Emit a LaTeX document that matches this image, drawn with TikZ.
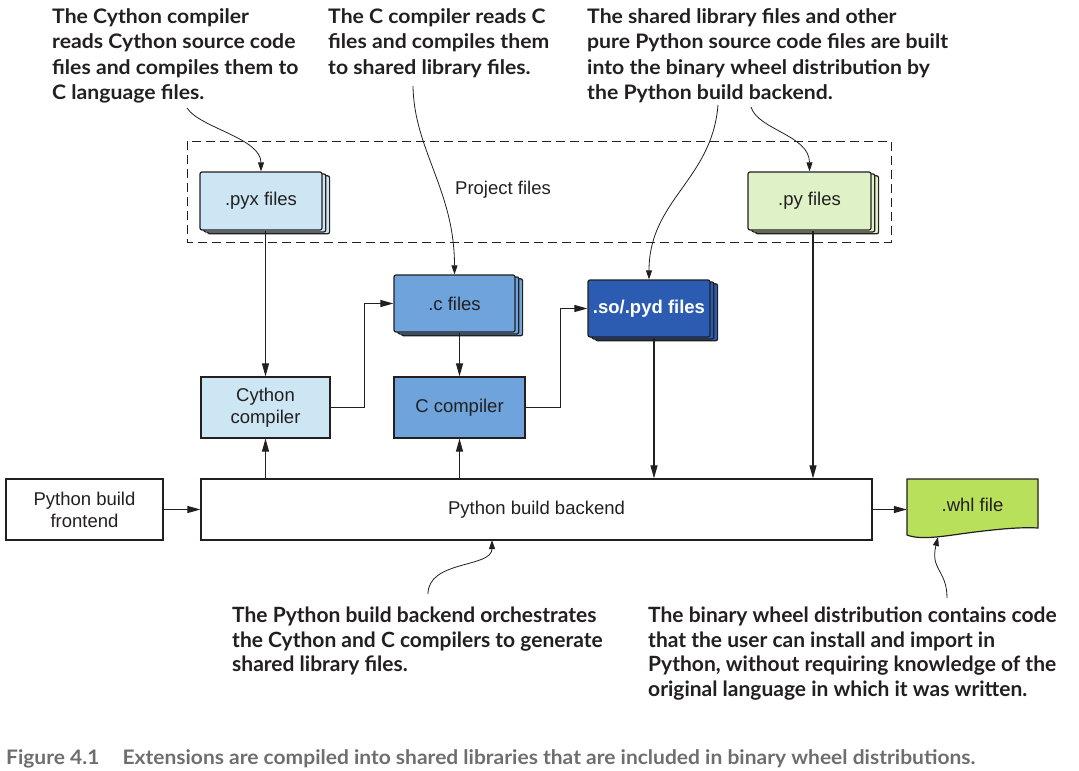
\documentclass[tikz,border=0pt]{standalone}
\usepackage{fontspec}
\setmainfont{Liberation Sans}
\newfontfamily\annfont{Lato}[FakeStretch=1.06]
\newfontfamily\annfontc{Lato}
\newfontfamily\capfont{Lato}[FakeStretch=1.05]
\usetikzlibrary{arrows.meta,shadows}
\definecolor{lc}{HTML}{231F20}
\definecolor{lightblue}{HTML}{CCE6F4}
\definecolor{midblue}{HTML}{6FA3DC}
\definecolor{darkblue}{HTML}{2B5CB2}
\definecolor{lightgreen}{HTML}{DFF1C6}
\definecolor{whlgreen}{HTML}{B9E05A}
\definecolor{capgray}{HTML}{6E6E70}
\newcommand{\boxfont}{\fontsize{18.5}{22}\selectfont}
\newcommand{\notefont}{\annfont\bfseries\fontsize{20}{25.5}\selectfont}
\newcommand{\notefontc}{\annfontc\bfseries\fontsize{21}{24.4}\selectfont}
\tikzset{
  box/.style={draw=lc, line width=1.2pt, font=\boxfont, text=lc, align=center, inner sep=0pt},
  filebox/.style={box, rounded corners=2pt, double copy shadow={shadow xshift=3.8pt, shadow yshift=-1.9pt}},
  arr/.style={-{Triangle[length=13pt,width=7pt]}, line width=1.1pt, draw=lc},
  ann/.style={-{Triangle[length=9pt,width=6pt]}, line width=0.8pt, draw=lc},
  note/.style={anchor=north west, inner sep=0pt, align=left, text=lc},
}
\begin{document}
\begin{tikzpicture}[x=1pt,y=-1pt]
\useasboundingbox (0,0) rectangle (1079,771);
% project files frame
\draw[lc, line width=1pt, dash pattern=on 9pt off 5pt] (187,141) rectangle (891,242);
\node[font=\boxfont, text=lc] (proj) at (503,190) {Project files};
% file boxes
\node[filebox, fill=lightblue, minimum width=122pt, minimum height=58pt] (pyx) at (261,201) {.pyx files};
\node[filebox, fill=lightgreen, minimum width=123pt, minimum height=58pt] (py) at (809.5,201) {.py files};
\node[filebox, fill=midblue, minimum width=121pt, minimum height=57pt] (cf) at (454.5,303.5) {.c files};
\node[filebox, fill=darkblue, minimum width=122pt, minimum height=57pt, text=white, font=\boxfont\bfseries] (so) at (649,308.5) {.so/.pyd files};
% compilers
\node[box, fill=lightblue, minimum width=129pt, minimum height=61pt] (cy) at (265.5,407.5) {Cython\\compiler};
\node[box, fill=midblue, minimum width=131pt, minimum height=61pt] (cc) at (459.5,407.5) {C compiler};
% frontend / backend
\node[box, fill=white, minimum width=157pt, minimum height=61pt] (fe) at (84.5,509.5) {Python build\\frontend};
\node[box, fill=white, minimum width=671pt, minimum height=61pt] (be) at (536.5,509.5) {Python build backend};
% whl file
\draw[lc, line width=1.2pt, fill=whlgreen] (1038,528) -- (1038,479) -- (907,479) -- (907,535)
  .. controls (922,541) and (950,535) .. (975,532) .. controls (1000,529) and (1020,527) .. (1038,528) -- cycle;
\node[font=\boxfont, text=lc, minimum width=131pt, minimum height=52pt, inner sep=0pt] (whl) at (972.5,505) {.whl file};
% connectors
\draw[arr] (pyx.south -| cy.north) -- (cy.north);
\draw[arr] (cf.south -| cc.north) -- (cc.north);
\draw[arr] ([xshift=5pt]so.south) -- ([xshift=5pt]so.south |- be.north);
\draw[arr] ([xshift=3.5pt]py.south) -- ([xshift=3.5pt]py.south |- be.north);
\draw[arr] (cy.east) -- ++(33.5,0) |- (cf.west);
\draw[arr] (cc.east) -- ++(35,0) |- (so.west);
\draw[arr] (be.north -| cy.north) -- (cy.south);
\draw[arr] (be.north -| cc.north) -- (cc.south);
\draw[arr] (fe.east) -- (be.west);
\draw[arr] (be.east) -- (be.east -| whl.west);
% annotations
\node[note, font=\notefont] (n1) at (52,8) {The Cython compiler\\reads Cython source code\\files and compiles them to\\C language files.};
\node[note, font=\notefont] (n2) at (328,8) {The C compiler reads C\\files and compiles them\\to shared library files.};
\node[note, font=\notefont] (n3) at (587,8) {The shared library files and other\\pure Python source code files are built\\into the binary wheel distribution by\\the Python build backend.};
\node[note, font=\notefontc] (n4) at (232,607) {The Python build backend orchestrates\\the Cython and C compilers to generate\\shared library files.};
\node[note, font=\notefontc] (n5) at (648,607) {The binary wheel distribution contains code\\that the user can install and import in\\Python, without requiring knowledge of the\\original language in which it was written.};
\coordinate (a1) at (187,108);
\coordinate (a2) at (413,86);
\coordinate (a3) at (718,105);
\coordinate (a4) at (751,107);
\coordinate (a5) at (428,594);
\coordinate (a5t) at (492,540);
\coordinate (a6) at (947,598);
\coordinate (a6t) at (938,537);
\draw[ann] (a1) .. controls (200,128) and (261,138) .. (pyx.north);
\draw[ann] (a2) .. controls (414,150) and (454.5,190) .. (cf.north);
\draw[ann] (a3) .. controls (712,180) and (649,200) .. (so.north);
\draw[ann] (a4) .. controls (758,130) and (809.5,135) .. (py.north);
\draw[ann] (a5) .. controls (428,560) and (492,568) .. (a5t);
\draw[ann] (a6) .. controls (947,570) and (930,570) .. (a6t);
% caption
\node[anchor=base west, inner sep=0pt, text=capgray, font=\capfont\bfseries\fontsize{20}{22}\selectfont] (cap) at (6,764) {Figure 4.1\hspace{23pt}Extensions are compiled into shared libraries that are included in binary wheel distributions.};
\end{tikzpicture}
\end{document}
